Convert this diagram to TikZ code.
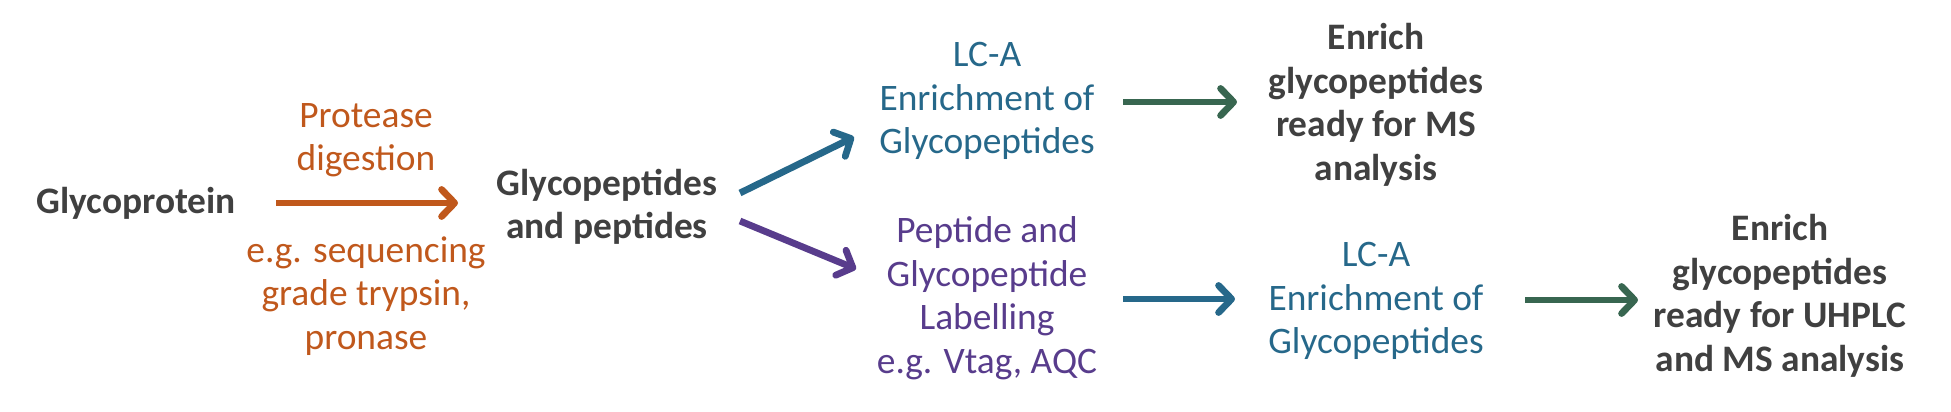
\documentclass[tikz,border=0pt]{standalone}
\usepackage{fontspec}
\setmainfont{Carlito}
\usetikzlibrary{arrows.meta,positioning}
\definecolor{darkcol}{RGB}{64,64,64}
\definecolor{protcol}{RGB}{192,88,28}
\definecolor{lcacol}{RGB}{38,104,138}
\definecolor{labcol}{RGB}{88,60,140}
\definecolor{enrcol}{RGB}{56,102,80}
\tikzset{
  txt/.style  = {align=center, inner sep=0pt, text=#1,
                 font=\fontsize{18.7}{21.75}\selectfont},
  main/.style = {align=center, inner sep=0pt, text=darkcol,
                 font=\fontsize{18.7}{21.75}\selectfont\bfseries},
  flow/.style = {-{Straight Barb[length=6.5pt,width=13.5pt,round]},
                 line width=3.4pt, draw=#1},
}

\begin{document}
\begin{tikzpicture}[x=0.5pt, y=-0.5pt]
  \useasboundingbox (0,0) rectangle (1951,412);

  \node[main] (prot) at (136,203) {Glycoprotein};
  \node[main] (pep)  at (607,207) {Glycopeptides\\ and peptides};

  \node[txt=protcol] (dig) at (366,140) {Protease\\ digestion};
  \node[txt=protcol] (eg)  at (366,296) {e.g. sequencing\\ grade trypsin,\\ pronase};

  \node[txt=lcacol] (lca1) at (987,101) {LC-A\\ Enrichment of\\ Glycopeptides};
  \node[txt=labcol] (lab)  at (987,298) {Peptide and\\ Glycopeptide\\ Labelling\\ e.g. Vtag, AQC};

  \node[main] (ms)   at (1376,105) {Enrich\\ glycopeptides\\ ready for MS\\ analysis};
  \node[txt=lcacol] (lca2) at (1376,301) {LC-A\\ Enrichment of\\ Glycopeptides};
  \node[main] (uhp)  at (1780,296) {Enrich\\ glycopeptides\\ ready for UHPLC\\ and MS analysis};

  % digestion
  \draw[flow=protcol] ([xshift=70pt]prot.center) -- ([xshift=-74.5pt,yshift=2pt]pep.center);
  % split
  \draw[flow=lcacol] ([xshift=66.5pt,yshift=7pt]pep.center) -- ([xshift=-66.5pt,yshift=-18pt]lca1.center);
  \draw[flow=labcol] ([xshift=66.5pt,yshift=-7pt]pep.center) -- ([xshift=-65.5pt,yshift=14.5pt]lab.center);
  % enrichment
  \draw[flow=enrcol] ([xshift=68pt,yshift=-0.5pt]lca1.center) -- ([xshift=-69.5pt,yshift=1.5pt]ms.center);
  \draw[flow=lcacol] ([xshift=68pt,yshift=-0.5pt]lab.center) -- ([xshift=-70.5pt,yshift=1pt]lca2.center);
  \draw[flow=enrcol] ([xshift=74.5pt,yshift=0.5pt]lca2.center) -- ([xshift=-71pt,yshift=-2pt]uhp.center);
\end{tikzpicture}
\end{document}
